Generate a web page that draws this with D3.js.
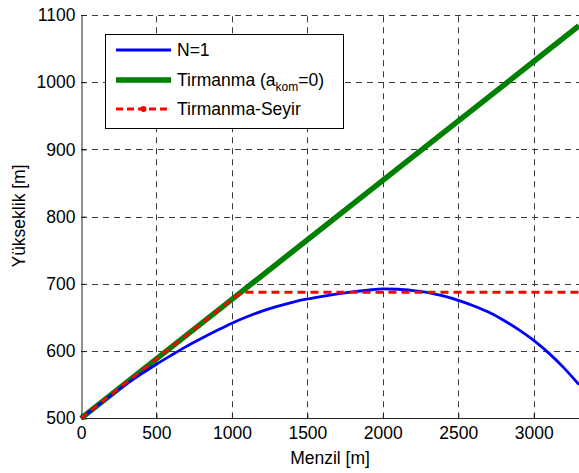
<!DOCTYPE html>
<html>
<head>
<meta charset="utf-8">
<script src="https://cdn.jsdelivr.net/npm/d3@7"></script>
<style>
body{margin:0;background:#fff;}
text{font-family:"Liberation Sans",Arial,Helvetica,sans-serif;fill:#000;}
</style>
</head>
<body>
<svg id="chart" width="579" height="473"></svg>
<script>
// menzil (m) / yukseklik (m) values
var blueX=[0,100,200,300,400,500,600,700,800,900,1000,1100,1200,1300,1400,1500,1600,1700,1800,1900,2000,2100,2200,2300,2400,2500,2600,2700,2800,2900,3000,3100,3200,3300];
var blueY=[500,517.5,534.5,551,566,580.5,594,607,619,630.5,641.5,651,659.5,666.5,672.5,677.5,681.5,685,688,690.5,692.5,692,690,687,682,675.5,667.5,658,646,632,616,597,575,550];
var greenX=[0,1000,2000,3300];
var greenY=[500,677,854,1084];
var redX=[0,1000,1065,3300];
var redY=[500,677,687.5,687.5];
var xTicks=[0,500,1000,1500,2000,2500,3000];
var yTicks=[500,600,700,800,900,1000,1100];
var legendNames=["N=1","Tirmanma","Tirmanma-Seyir"];

var FS=17.5;
var margin={left:81,top:15,right:581,bottom:418.3};

var svg=d3.select("#chart");

var x=d3.scaleLinear().domain([0,3300]).range([margin.left,margin.right-2]);
var y=d3.scaleLinear().domain([500,1100]).range([margin.bottom,margin.top]);

var pairs=function(xs,ys){
	return xs.map(function(d,i){return [d,ys[i]];});
};
var line=d3.line().x(function(d){return x(d[0]);}).y(function(d){return y(d[1]);});
var smooth=d3.line().curve(d3.curveMonotoneX).x(function(d){return x(d[0]);}).y(function(d){return y(d[1]);});

//grid
var grid=svg.append("g").attr("class","grid")
	.attr("stroke","#3a3a3a").attr("stroke-width",1).attr("stroke-dasharray","6,5");
grid.selectAll(".vg").data(xTicks.slice(1)).enter().append("line")
	.attr("x1",function(d){return Math.round(x(d))+0.5;})
	.attr("x2",function(d){return Math.round(x(d))+0.5;})
	.attr("y1",margin.bottom).attr("y2",margin.top);
grid.selectAll(".hg").data(yTicks.slice(1)).enter().append("line")
	.attr("y1",function(d){return Math.round(y(d))+0.5;})
	.attr("y2",function(d){return Math.round(y(d))+0.5;})
	.attr("x1",margin.left).attr("x2",579);

//axes
var xAxis=d3.axisBottom(x).tickValues(xTicks).tickFormat(d3.format("d")).tickSize(-5).tickPadding(8);
var yAxis=d3.axisLeft(y).tickValues(yTicks).tickFormat(d3.format("d")).tickSize(-5).tickPadding(6);

var gx=svg.append("g").attr("transform","translate(0,"+(Math.round(margin.bottom)+0.5)+")").call(xAxis);
var gy=svg.append("g").attr("transform","translate("+(margin.left+0.5)+",0)").call(yAxis);
[gx,gy].forEach(function(g){
	g.select(".domain").attr("stroke","#222").attr("stroke-width",1);
	g.selectAll(".tick line").attr("stroke","#222");
	g.selectAll("text").attr("font-size",FS).attr("font-family","Liberation Sans, Arial, sans-serif").attr("fill","#000");
});
gx.select(".domain").attr("d","M"+margin.left+",0H579");

//series
svg.append("path").datum(pairs(greenX,greenY)).attr("d",line)
	.attr("fill","none").attr("stroke","#008000").attr("stroke-width",5.5);
svg.append("path").datum(pairs(blueX,blueY)).attr("d",smooth)
	.attr("fill","none").attr("stroke","#0000ff").attr("stroke-width",2.8);
svg.append("path").datum(pairs(redX,redY)).attr("d",line)
	.attr("fill","none").attr("stroke","#ff0000").attr("stroke-width",2.8)
	.attr("stroke-dasharray","8,5");

//axis labels
svg.append("text").attr("x",330).attr("y",464).attr("text-anchor","middle")
	.attr("font-size",FS).text("Menzil [m]");
svg.append("text").attr("transform","translate(25,216) rotate(-90)").attr("text-anchor","middle")
	.attr("font-size",FS).text("Yükseklik [m]");

//legend
var leg=svg.append("g").attr("class","legend");
leg.append("rect").attr("x",105.5).attr("y",34.5).attr("width",238).attr("height",94)
	.attr("fill","#fff").attr("stroke","#000").attr("stroke-width",1);
var rows=[50,80,109];
leg.append("line").attr("x1",116).attr("x2",171).attr("y1",rows[0]).attr("y2",rows[0])
	.attr("stroke","#0000ff").attr("stroke-width",2.8);
leg.append("line").attr("x1",116).attr("x2",171).attr("y1",rows[1]).attr("y2",rows[1])
	.attr("stroke","#008000").attr("stroke-width",5.5);
leg.append("line").attr("x1",116).attr("x2",171).attr("y1",rows[2]).attr("y2",rows[2])
	.attr("stroke","#ff0000").attr("stroke-width",2.8).attr("stroke-dasharray","7,4");
leg.append("circle").attr("cx",143.5).attr("cy",rows[2]).attr("r",3).attr("fill","#ff0000");

leg.append("text").attr("x",177).attr("y",rows[0]+6).attr("font-size",FS).text(legendNames[0]);
var t2=leg.append("text").attr("x",177).attr("y",rows[1]+6).attr("font-size",FS);
t2.append("tspan").text(legendNames[1]+" (a");
t2.append("tspan").attr("font-size",12).attr("dy",5).text("kom");
t2.append("tspan").attr("dy",-5).text("=0)");
leg.append("text").attr("x",177).attr("y",rows[2]+6).attr("font-size",FS).text(legendNames[2]);
</script>
</body>
</html>
